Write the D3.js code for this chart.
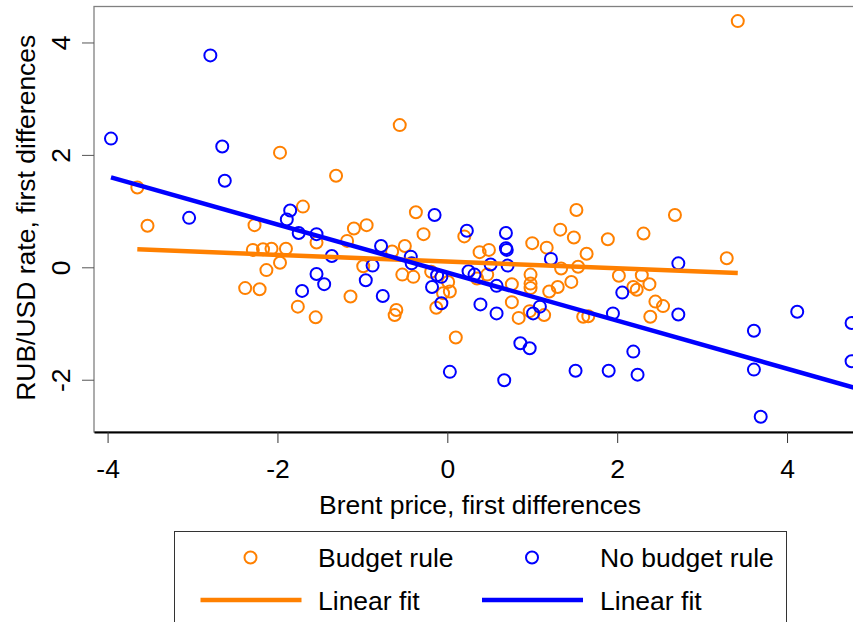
<!DOCTYPE html>
<html>
<head>
<meta charset="utf-8">
<script src="https://cdn.jsdelivr.net/npm/d3@7"></script>
<style>
body { margin: 0; background: #fff; overflow: hidden; }
text { font-family: "Liberation Sans", Arial, sans-serif; }
</style>
</head>
<body>
<div id="chart"></div>
<script>
// Budget rule (orange) points
const budgetX = [-3.65, -3.53, -1.97, -1.31, -1.70, -2.27, -1.10, -1.54, -1.18, -2.29,
    -2.17, -2.07, -1.90, -1.97, -2.13, -2.38, -2.21, -1.76, -1.55, -1.14,
    -0.37, -0.95, -0.28, 0.20, -0.50, -0.65, 0.38, 0.49, -0.99, -0.53,
    -0.40, -0.19, 0.01, 0.03, -0.05, -0.13, -0.60, -0.62, 0.10, 0.35,
    0.47, 0.76, 0.76, 0.84, 0.97, 1.14, 1.00, 1.17, 1.33, 0.98,
    0.98, 0.98, 1.20, 1.30, 1.52, 2.68, 1.49, 1.89, 2.31, 1.64,
    3.29, 1.34, 1.54, 2.02, 2.29, 1.46, 2.19, 2.23, 2.38, 2.45,
    2.54, 2.39, 1.60, 1.66, 3.42, -0.56];
const budgetY = [1.42, 0.74, 2.04, 1.63, 1.08, 0.75, 0.69, 0.44, 0.47, 0.31,
    0.32, 0.33, 0.33, 0.08, -0.05, -0.37, -0.39, -0.70, -0.89, -0.52,
    0.98, 0.75, 0.59, 0.55, 0.38, 0.28, 0.27, 0.31, 0.02, -0.13,
    -0.17, -0.08, -0.26, -0.43, -0.46, -0.72, -0.76, -0.85, -1.25, -0.20,
    -0.13, -0.30, -0.62, -0.90, -0.78, -0.85, 0.43, 0.35, 0.67, -0.13,
    -0.29, -0.37, -0.43, -0.35, 1.02, 0.93, 0.53, 0.50, 0.60, 0.24,
    0.16, -0.02, 0.01, -0.15, -0.14, -0.26, -0.35, -0.40, -0.30, -0.61,
    -0.69, -0.88, -0.88, -0.87, 4.38, 2.53];

// No budget rule (blue) points
const noRuleX = [-2.79, -3.96, -2.65, -2.62, -1.85, -1.89, -3.04, -1.75, -1.54, -1.36,
    -1.54, -1.45, -1.71, -0.15, 0.23, 0.69, -0.78, 0.69, 0.70, -0.43,
    -0.42, -0.88, -0.12, -0.07, -0.18, -0.96, -0.76, -0.07, 0.03, 0.25,
    0.32, 0.51, 0.71, 0.58, 0.39, 0.58, 0.86, 0.97, 0.67, 1.01,
    1.09, 1.22, 2.72, 2.06, 2.72, 1.95, 2.19, 1.51, 1.90, 2.24,
    3.61, 3.61, 4.12, 4.76, 4.76, 3.69];
const noRuleY = [3.77, 2.29, 2.15, 1.54, 1.01, 0.85, 0.88, 0.61, 0.59, 0.20,
    -0.12, -0.30, -0.42, 0.93, 0.65, 0.61, 0.38, 0.34, 0.31, 0.19,
    0.07, 0.03, -0.14, -0.17, -0.35, -0.23, -0.51, -0.64, -1.86, -0.07,
    -0.13, 0.05, 0.03, -0.33, -0.66, -0.82, -1.35, -1.44, -2.01, -0.82,
    -0.70, 0.15, 0.07, -0.45, -0.84, -0.82, -1.50, -1.84, -1.84, -1.91,
    -1.13, -1.82, -0.79, -0.99, -1.67, -2.66];

// Linear fit end points
const budgetFitX = [-3.65, 3.42];
const budgetFitY = [0.32, -0.10];
const noRuleFitX = [-3.96, 4.95];
const noRuleFitY = [1.60, -2.21];

const xTicks = [-4, -2, 0, 2, 4];
const yTicks = [-2, 0, 2, 4];
const xTitle = "Brent price, first differences";
const yTitle = "RUB/USD rate, first differences";

const orange = "#ff8000";
const blue = "#0000ff";
const fontSize = 26.5;

const width = 853;
const height = 622;
const plot = { left: 94, top: 6.5, right: 900, bottom: 432 };

const svg = d3.select("#chart")
    .append("svg")
    .attr("width", width)
    .attr("height", height);

const x = d3.scaleLinear().domain([-4.16, 5.33]).range([plot.left, plot.right]);
const y = d3.scaleLinear().domain([-2.93, 4.64]).range([plot.bottom, plot.top]);

// plot frame
svg.append("rect")
    .attr("x", plot.left)
    .attr("y", plot.top)
    .attr("width", plot.right - plot.left)
    .attr("height", plot.bottom - plot.top)
    .attr("fill", "none")
    .attr("stroke", "#808080")
    .attr("stroke-width", 1.3);

// x axis
const xAxis = svg.append("g")
    .attr("transform", `translate(0,${plot.bottom})`)
    .call(d3.axisBottom(x).tickValues(xTicks).tickSize(11).tickSizeOuter(0)
        .tickPadding(24).tickFormat(d => String(d)));
xAxis.select(".domain").attr("stroke", "#000").attr("stroke-width", 1.8);
xAxis.selectAll(".tick line").attr("stroke", "#333");
xAxis.selectAll(".tick text")
    .attr("dy", null)
    .attr("y", 46)
    .attr("font-size", fontSize)
    .attr("fill", "#000");

// y axis (labels parallel to the axis, like base R)
const yAxis = svg.append("g")
    .attr("transform", `translate(${plot.left},0)`)
    .call(d3.axisLeft(y).tickValues(yTicks).tickSize(12).tickFormat(d => String(d)));
yAxis.select(".domain").remove();
yAxis.selectAll(".tick line").attr("stroke", "#555");
yAxis.selectAll(".tick text")
    .attr("x", null)
    .attr("dy", null)
    .attr("text-anchor", "middle")
    .attr("transform", `translate(${70 - plot.left},0) rotate(-90)`)
    .attr("font-size", fontSize)
    .attr("fill", "#000");

svg.append("text")
    .attr("x", 480)
    .attr("y", 514)
    .attr("text-anchor", "middle")
    .attr("font-size", fontSize)
    .text(xTitle);

svg.append("text")
    .attr("transform", `translate(35,${(plot.top + plot.bottom) / 2 - 1.5}) rotate(-90)`)
    .attr("text-anchor", "middle")
    .attr("font-size", fontSize)
    .text(yTitle);

// points
const budgetPts = budgetX.map((v, i) => [v, budgetY[i]]);
const noRulePts = noRuleX.map((v, i) => [v, noRuleY[i]]);

svg.append("g")
    .selectAll("circle")
    .data(budgetPts)
    .enter().append("circle")
    .attr("cx", d => x(d[0]))
    .attr("cy", d => y(d[1]))
    .attr("r", 6)
    .attr("fill", "none")
    .attr("stroke", orange)
    .attr("stroke-width", 2);

svg.append("g")
    .selectAll("circle")
    .data(noRulePts)
    .enter().append("circle")
    .attr("cx", d => x(d[0]))
    .attr("cy", d => y(d[1]))
    .attr("r", 6)
    .attr("fill", "none")
    .attr("stroke", blue)
    .attr("stroke-width", 2);

// fit lines
const line = d3.line().x(d => x(d[0])).y(d => y(d[1]));

svg.append("path")
    .datum(budgetFitX.map((v, i) => [v, budgetFitY[i]]))
    .attr("d", line)
    .attr("stroke", orange)
    .attr("stroke-width", 4.5)
    .attr("fill", "none");

svg.append("path")
    .datum(noRuleFitX.map((v, i) => [v, noRuleFitY[i]]))
    .attr("d", line)
    .attr("stroke", blue)
    .attr("stroke-width", 4.5)
    .attr("fill", "none");

// legend
const legend = svg.append("g");
legend.append("rect")
    .attr("x", 174.5)
    .attr("y", 531.5)
    .attr("width", 612)
    .attr("height", 120)
    .attr("fill", "#fff")
    .attr("stroke", "#333")
    .attr("stroke-width", 1);

const legendItems = [
    { col: 0, row: 0, kind: "point", color: orange, label: "Budget rule" },
    { col: 1, row: 0, kind: "point", color: blue, label: "No budget rule" },
    { col: 0, row: 1, kind: "line", color: orange, label: "Linear fit" },
    { col: 1, row: 1, kind: "line", color: blue, label: "Linear fit" }
];
const colX = [250.5, 532];
const textX = [318, 600];
const rowY = [557.5, 600];

legendItems.forEach(it => {
    const cx = colX[it.col];
    const cy = rowY[it.row];
    if (it.kind === "point") {
        legend.append("circle")
            .attr("cx", cx).attr("cy", cy).attr("r", 6)
            .attr("fill", "none").attr("stroke", it.color).attr("stroke-width", 2);
    } else {
        legend.append("line")
            .attr("x1", cx - 50).attr("x2", cx + 51)
            .attr("y1", cy).attr("y2", cy)
            .attr("stroke", it.color).attr("stroke-width", 4.5);
    }
    legend.append("text")
        .attr("x", textX[it.col])
        .attr("y", cy + 9.5)
        .attr("font-size", fontSize)
        .text(it.label);
});
</script>
</body>
</html>
